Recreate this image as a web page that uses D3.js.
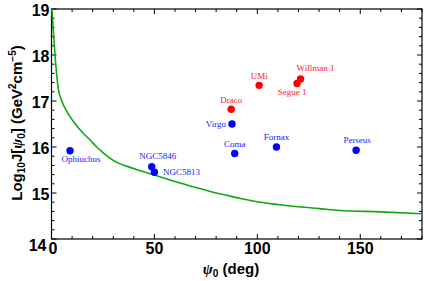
<!DOCTYPE html>
<html>
<head>
<meta charset="utf-8">
<script src="https://cdn.jsdelivr.net/npm/d3@7.9.0/dist/d3.min.js"></script>
<style>
  body { margin: 0; background: #fff; }
  svg { display: block; }
</style>
</head>
<body>
<svg id="chart" width="424" height="281"></svg>
<script>
// sources: name, psi0 (deg), log10 J, colour group
const names = ['Ophiuchus', 'NGC5846', 'NGC5813', 'Virgo', 'Coma', 'Fornax', 'Perseus', 'Draco', 'UMi', 'Segue 1', 'Willman 1'];
const psi = [9.0, 48.7, 50.0, 87.7, 89.0, 109.3, 148.0, 87.3, 100.9, 119.3, 121.0];
const logJ = [15.92, 15.57, 15.45, 16.50, 15.86, 16.00, 15.93, 16.82, 17.34, 17.38, 17.48];
const group = ['cluster', 'cluster', 'cluster', 'cluster', 'cluster', 'cluster', 'cluster', 'dwarf', 'dwarf', 'dwarf', 'dwarf'];

// sensitivity curve
const curvePsi = [0.2, 0.8, 1.7, 3.3, 5, 6.6, 9, 11.4, 14.7, 17.9, 22, 26, 30, 40, 50, 60, 70, 78, 90, 100, 110, 120, 130, 140, 160, 180];
const curveJ = [19.0, 18.6, 18.0, 17.27, 17.0, 16.84, 16.66, 16.51, 16.33, 16.19, 16.0, 15.84, 15.71, 15.53, 15.39, 15.25, 15.12, 15.02, 14.9, 14.81, 14.75, 14.70, 14.66, 14.62, 14.59, 14.55];

const xTicks = [0, 50, 100, 150];
const yTicks = [14, 15, 16, 17, 18, 19];

const margin = { top: 9, right: 2, bottom: 42, left: 51.5 };
const width = 424, height = 281;

const svg = d3.select('#chart');
const x = d3.scaleLinear().domain([0, 180]).range([margin.left, width - margin.right]);
const y = d3.scaleLinear().domain([14, 19]).range([height - margin.bottom, margin.top]);

// label placement relative to point (dx, dy, anchor)
const labelPos = {
  'Ophiuchus': [11, 11.5, 'middle'],
  'NGC5846': [6, -7.5, 'middle'],
  'NGC5813': [27, 2.5, 'middle'],
  'Virgo': [-6, 3, 'end'],
  'Coma': [0, -6.5, 'middle'],
  'Fornax': [0, -7.5, 'middle'],
  'Perseus': [1, -7.5, 'middle'],
  'Draco': [0, -6.5, 'middle'],
  'UMi': [0, -6, 'middle'],
  'Segue 1': [-5, 11.5, 'middle'],
  'Willman 1': [15, -7.5, 'middle']
};

// ticks on all four sides, pointing inwards
const g = svg.append('g').attr('stroke', '#000').attr('stroke-width', 1);
d3.range(0, 181, 10).forEach((v) => {
  const len = v % 50 === 0 ? 5 : 3;
  g.append('line').attr('x1', x(v)).attr('x2', x(v)).attr('y1', y(14)).attr('y2', y(14) - len);
  g.append('line').attr('x1', x(v)).attr('x2', x(v)).attr('y1', y(19)).attr('y2', y(19) + len);
});
d3.range(0, 26).forEach((i) => {
  const v = 14 + i * 0.2;
  const len = i % 5 === 0 ? 5 : 3;
  g.append('line').attr('y1', y(v)).attr('y2', y(v)).attr('x1', x(0)).attr('x2', x(0) + len);
  g.append('line').attr('y1', y(v)).attr('y2', y(v)).attr('x1', x(180)).attr('x2', x(180) - len);
});

svg.append('rect')
  .attr('x', x(0)).attr('y', y(19))
  .attr('width', x(180) - x(0)).attr('height', y(14) - y(19))
  .attr('fill', 'none').attr('stroke', '#000').attr('stroke-width', 1.2);

// tick labels
svg.append('g').selectAll('text').data(xTicks).join('text')
  .attr('x', (d) => d === 0 ? x(d) + 1.5 : x(d)).attr('y', y(14) + 15)
  .attr('text-anchor', 'middle')
  .attr('font-family', 'Liberation Sans, Arial, sans-serif')
  .attr('font-weight', 'bold').attr('font-size', 16)
  .text((d) => d);

svg.append('g').selectAll('text').data(yTicks).join('text')
  .attr('x', (d) => d === 14 ? x(0) - 5 : x(0) - 2)
  .attr('y', (d) => d === 14 ? y(d) + 12 : y(d) + 6.5)
  .attr('text-anchor', 'end')
  .attr('font-family', 'Liberation Sans, Arial, sans-serif')
  .attr('font-weight', 'bold').attr('font-size', 16)
  .text((d) => d);

// axis titles
const xt = svg.append('text')
  .attr('x', 231).attr('y', 274)
  .attr('text-anchor', 'middle')
  .attr('font-family', 'Liberation Sans, Arial, sans-serif')
  .attr('font-weight', 'bold').attr('font-size', 15);
xt.append('tspan').attr('font-family', 'Liberation Serif, serif').attr('font-style', 'italic').text('ψ');
xt.append('tspan').attr('font-size', 10).attr('dy', 3).text('0');
xt.append('tspan').attr('dy', -3).text(' (deg)');

const yt = svg.append('text')
  .attr('transform', 'translate(22,' + 123 + ') rotate(-90)')
  .attr('text-anchor', 'middle')
  .attr('font-family', 'Liberation Sans, Arial, sans-serif')
  .attr('font-weight', 'bold').attr('font-size', 15);
yt.append('tspan').text('Log');
yt.append('tspan').attr('font-size', 10).attr('dy', 3).text('10');
yt.append('tspan').attr('dy', -3).text('J[');
yt.append('tspan').attr('font-family', 'Liberation Serif, serif').attr('font-style', 'italic').text('ψ');
yt.append('tspan').attr('font-size', 10).attr('dy', 3).text('0');
yt.append('tspan').attr('dy', -3).text('] (GeV');
yt.append('tspan').attr('font-size', 10).attr('dy', -6).text('2');
yt.append('tspan').attr('dy', 6).text('cm');
yt.append('tspan').attr('font-size', 10).attr('dy', -6).text('−5');
yt.append('tspan').attr('dy', 6).text(')');

// curve
const curve = curvePsi.map((p, i) => [p, curveJ[i]]);
svg.append('path')
  .datum(curve)
  .attr('fill', 'none').attr('stroke', '#10a810').attr('stroke-width', 1.6)
  .attr('d', d3.line().x((d) => x(d[0])).y((d) => y(d[1])).curve(d3.curveMonotoneX));

// points and labels
const pts = names.map((n, i) => ({ name: n, psi: psi[i], j: logJ[i], group: group[i] }));
const colour = { cluster: '#0000ff', dwarf: '#ff0000' };

svg.append('g').selectAll('circle').data(pts).join('circle')
  .attr('cx', (d) => x(d.psi)).attr('cy', (d) => y(d.j))
  .attr('r', 3.7).attr('fill', (d) => colour[d.group]);

svg.append('g').selectAll('text').data(pts).join('text')
  .attr('x', (d) => x(d.psi) + labelPos[d.name][0])
  .attr('y', (d) => y(d.j) + labelPos[d.name][1])
  .attr('text-anchor', (d) => labelPos[d.name][2])
  .attr('font-family', 'Liberation Serif, Times New Roman, serif')
  .attr('font-size', 9)
  .attr('fill', (d) => d.group === 'dwarf' ? '#ff2020' : '#2020ff')
  .text((d) => d.name);
</script>
</body>
</html>
